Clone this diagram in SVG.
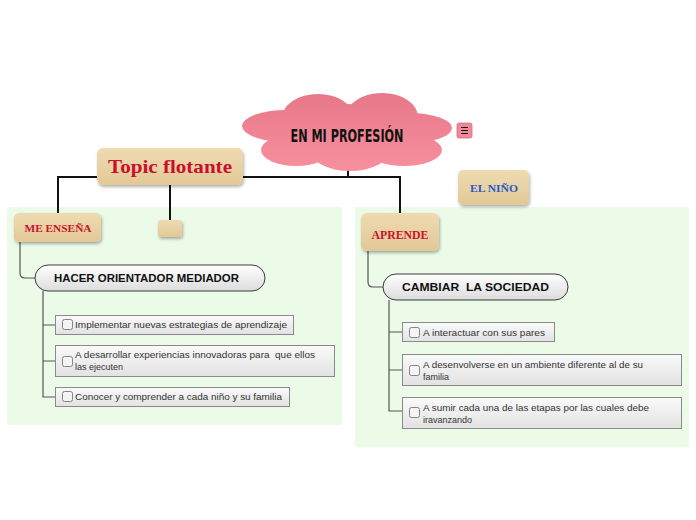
<svg xmlns="http://www.w3.org/2000/svg" width="696" height="520" viewBox="0 0 696 520">
<defs>
<linearGradient id="cloudG" gradientUnits="userSpaceOnUse" x1="0" y1="92" x2="0" y2="172">
<stop offset="0" stop-color="#e67789"/><stop offset="1" stop-color="#f7909f"/>
</linearGradient>
<linearGradient id="tanG" x1="0" y1="0" x2="0" y2="1">
<stop offset="0" stop-color="#efdbb2"/><stop offset="1" stop-color="#e2c896"/>
</linearGradient>
<linearGradient id="pillG" x1="0" y1="0" x2="0" y2="1">
<stop offset="0" stop-color="#ffffff"/><stop offset="1" stop-color="#dcdcdc"/>
</linearGradient>
<linearGradient id="boxG" x1="0" y1="0" x2="0" y2="1">
<stop offset="0" stop-color="#fafafa"/><stop offset="1" stop-color="#e2e2e2"/>
</linearGradient>
<filter id="sh" x="-20%" y="-20%" width="140%" height="160%">
<feDropShadow dx="1" dy="2" stdDeviation="1.5" flood-color="#000" flood-opacity="0.3"/>
</filter>
</defs>
<style>
.tan{fill:url(#tanG);filter:url(#sh)}
.pill{fill:url(#pillG);stroke:#3a3a3a;stroke-width:1}
.box{fill:url(#boxG);stroke:#8a8a8a;stroke-width:1}
.cb{fill:#f4f4f4;stroke:#777;stroke-width:0.9}
.main{fill:none;stroke:#111;stroke-width:2}
.sub{fill:none;stroke:#555;stroke-width:1.2}
.red{font-family:"Liberation Serif",serif;font-weight:bold;fill:#c8102e}
.pt{font-family:"Liberation Sans",Arial,sans-serif;font-weight:bold;font-size:11px;fill:#111}
.it{font-family:"Liberation Sans",Arial,sans-serif;font-size:9px;fill:#333}
</style>
<rect x="7" y="207" width="335" height="218" fill="#ebfbe8"/>
<rect x="355" y="207" width="334" height="240" fill="#ebfbe8"/>
<g id="connectors">
<path class="main" d="M348 170V177M58 213V177H97M243 177H400V213M170 185V220"/>
<path class="sub" d="M20 242V273Q20 278 25 278H35"/>
<path class="sub" d="M368 251V282Q368 287 373 287H383"/>
<path class="sub" d="M43 291V397H55M43 325H55M43 361H55"/>
<path class="sub" d="M389 300V411H402M389 332H402M389 370H402"/>
</g>
<g id="cloud" fill="url(#cloudG)">
<ellipse cx="318" cy="118" rx="36" ry="24"/>
<ellipse cx="382" cy="117" rx="36" ry="24"/>
<ellipse cx="286" cy="126" rx="44" ry="16"/>
<ellipse cx="410" cy="128" rx="42" ry="15"/>
<ellipse cx="296" cy="150" rx="35" ry="16"/>
<ellipse cx="350" cy="150" rx="40" ry="21"/>
<ellipse cx="404" cy="150" rx="38" ry="16"/>
<ellipse cx="347" cy="132" rx="80" ry="28"/>
<text x="347" y="142" text-anchor="middle" font-family="DejaVu Sans, sans-serif" font-stretch="condensed" font-weight="bold" font-size="17" fill="#111" textLength="113" lengthAdjust="spacingAndGlyphs">EN MI PROFESIÓN</text>
</g>
<g id="menu-icon">
<rect x="457" y="123" width="15" height="15" rx="2" fill="#f0889a" stroke="#d86a7c" stroke-width="0.8"/>
<path d="M461 127.5H468M461 130.5H468M461 133.5H468" stroke="#111" stroke-width="1.2"/>
</g>
<g id="topic-flotante">
<rect class="tan" x="97" y="148" width="146" height="37" rx="6"/>
<text class="red" x="170" y="173" text-anchor="middle" font-size="19" textLength="124" lengthAdjust="spacingAndGlyphs">Topic flotante</text>
</g>
<g id="me-ensena">
<rect class="tan" x="14" y="213" width="87" height="29" rx="5"/>
<text class="red" x="58" y="232" text-anchor="middle" font-size="11" textLength="67" lengthAdjust="spacingAndGlyphs">ME ENSEÑA</text>
</g>
<g id="empty-topic">
<rect class="tan" x="158" y="220" width="24" height="17" rx="3"/>
</g>
<g id="el-nino">
<rect class="tan" x="458" y="170" width="71" height="35" rx="5"/>
<text x="494" y="192" text-anchor="middle" font-family="Liberation Serif,serif" font-weight="bold" font-size="11" fill="#1f5bc6" textLength="48" lengthAdjust="spacingAndGlyphs">EL NIÑO</text>
</g>
<g id="aprende">
<rect class="tan" x="361" y="213" width="78" height="38" rx="6"/>
<text class="red" x="400" y="239" text-anchor="middle" font-size="12" textLength="57" lengthAdjust="spacingAndGlyphs">APRENDE</text>
</g>
<g id="hacer">
<rect class="pill" x="35" y="265" width="230" height="26" rx="13"/>
<text class="pt" x="54" y="282" textLength="185" lengthAdjust="spacingAndGlyphs">HACER ORIENTADOR MEDIADOR</text>
</g>
<g id="cambiar">
<rect class="pill" x="383" y="274" width="185" height="26" rx="13"/>
<text class="pt" x="402" y="291" textLength="147" lengthAdjust="spacingAndGlyphs" xml:space="preserve">CAMBIAR  LA SOCIEDAD</text>
</g>
<g id="item-l1">
<rect class="box" x="55.5" y="315.5" width="238" height="19"/>
<rect class="cb" x="62.5" y="319.5" width="10" height="10" rx="2"/>
<text class="it" x="75" y="328" textLength="212" lengthAdjust="spacingAndGlyphs">Implementar nuevas estrategias de aprendizaje</text>
</g>
<g id="item-l2">
<rect class="box" x="55.5" y="345.5" width="279" height="31"/>
<rect class="cb" x="62.5" y="356.5" width="10" height="10" rx="2"/>
<text class="it" x="75" y="358" textLength="240" lengthAdjust="spacingAndGlyphs" xml:space="preserve">A desarrollar experiencias innovadoras para  que ellos</text>
<text class="it" x="75" y="370">las ejecuten</text>
</g>
<g id="item-l3">
<rect class="box" x="55.5" y="387.5" width="234" height="19"/>
<rect class="cb" x="62.5" y="391.5" width="10" height="10" rx="2"/>
<text class="it" x="75" y="400" textLength="207" lengthAdjust="spacingAndGlyphs">Conocer y comprender a cada niño y su familia</text>
</g>
<g id="item-r1">
<rect class="box" x="402.5" y="322.5" width="152" height="19"/>
<rect class="cb" x="409.5" y="327.5" width="10" height="10" rx="2"/>
<text class="it" x="423" y="336" textLength="122" lengthAdjust="spacingAndGlyphs">A interactuar con sus pares</text>
</g>
<g id="item-r2">
<rect class="box" x="402.5" y="354.5" width="279" height="31"/>
<rect class="cb" x="409.5" y="365.5" width="10" height="10" rx="2"/>
<text class="it" x="423" y="368" textLength="220" lengthAdjust="spacingAndGlyphs">A desenvolverse en un ambiente diferente al de su</text>
<text class="it" x="423" y="380">familia</text>
</g>
<g id="item-r3">
<rect class="box" x="402.5" y="397.5" width="279" height="31"/>
<rect class="cb" x="409.5" y="407.5" width="10" height="10" rx="2"/>
<text class="it" x="423" y="411" textLength="226" lengthAdjust="spacingAndGlyphs">A sumir cada una de las etapas por las cuales debe</text>
<text class="it" x="423" y="423">iravanzando</text>
</g>
</svg>
